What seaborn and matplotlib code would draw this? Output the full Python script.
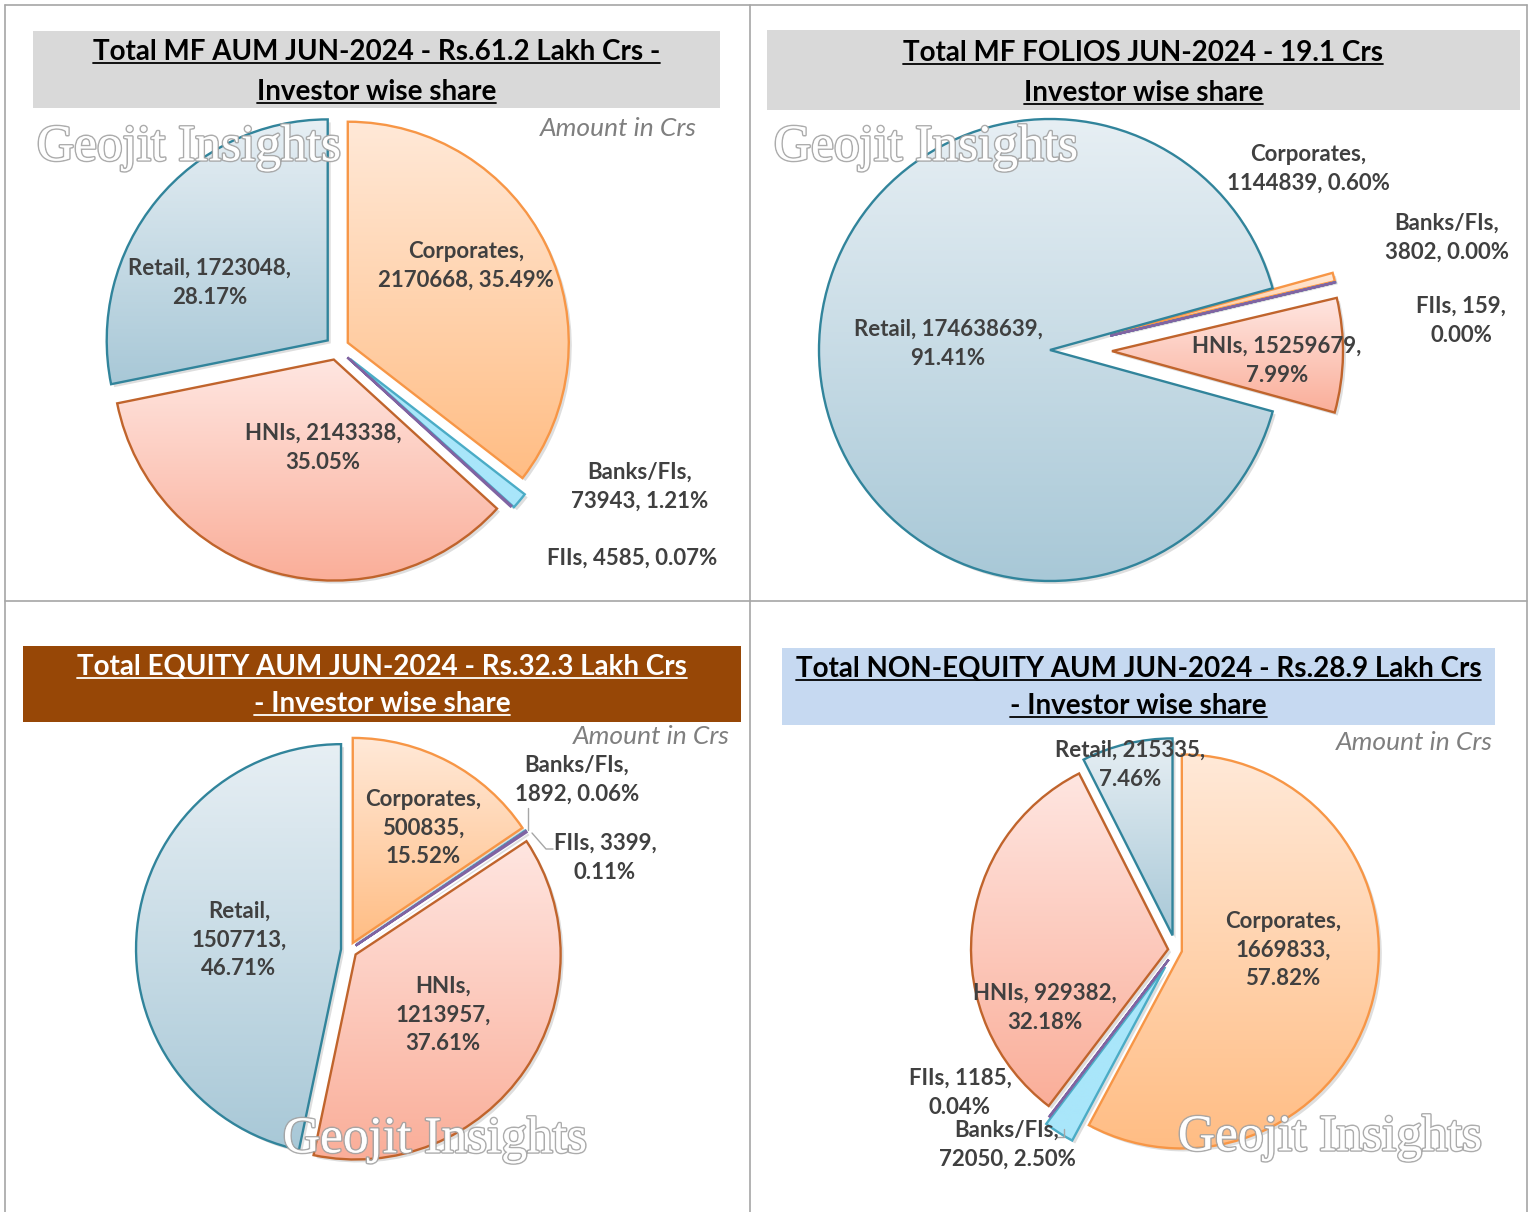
import numpy as np
import matplotlib
matplotlib.use("Agg")
import matplotlib.pyplot as plt
import matplotlib.patheffects as pe
from matplotlib.patches import Rectangle, PathPatch
from matplotlib.transforms import Affine2D
import seaborn as sns

# ==========================================
# DATA (amounts in Crs, folios in numbers)
# ==========================================
categories = ["Corporates", "Banks/FIs", "FIIs", "HNIs", "Retail"]

mf_aum = [2170668, 73943, 4585, 2143338, 1723048]
mf_aum_pct = [35.49, 1.21, 0.07, 35.05, 28.17]

mf_folios = [1144839, 3802, 159, 15259679, 174638639]
mf_folios_pct = [0.60, 0.00, 0.00, 7.99, 91.41]

equity_aum = [500835, 1892, 3399, 1213957, 1507713]
equity_aum_pct = [15.52, 0.06, 0.11, 37.61, 46.71]

non_equity_aum = [1669833, 72050, 1185, 929382, 215335]
non_equity_aum_pct = [57.82, 2.50, 0.04, 32.18, 7.46]

titles = [
    ["Total MF AUM JUN-2024 - Rs.61.2 Lakh Crs -", "Investor wise share"],
    ["Total MF FOLIOS JUN-2024 - 19.1 Crs", "Investor wise share"],
    ["Total EQUITY AUM JUN-2024 - Rs.32.3 Lakh Crs", "- Investor wise share"],
    ["Total NON-EQUITY AUM JUN-2024 - Rs.28.9 Lakh Crs", "- Investor wise share"],
]

# label line breaks: how many "words" go on each line, per category
label_breaks = [
    {"Corporates": [1, 2], "Banks/FIs": [1, 2], "FIIs": [3], "HNIs": [2, 1], "Retail": [2, 1]},
    {"Corporates": [1, 2], "Banks/FIs": [1, 2], "FIIs": [2, 1], "HNIs": [2, 1], "Retail": [2, 1]},
    {"Corporates": [1, 1, 1], "Banks/FIs": [1, 2], "FIIs": [2, 1], "HNIs": [1, 1, 1], "Retail": [1, 1, 1]},
    {"Corporates": [1, 1, 1], "Banks/FIs": [1, 2], "FIIs": [2, 1], "HNIs": [2, 1], "Retail": [2, 1]},
]

# ==========================================
# STYLE / LAYOUT (pixel space, y measured from top)
# ==========================================
W, H = 1530, 1212
top_col = {"Corporates": "#FFE9D8", "Banks/FIs": "#A9E6FA", "FIIs": "#8E74B0",
           "HNIs": "#FFE6E1", "Retail": "#E7EFF4"}
bot_col = {"Corporates": "#FFBD84", "Banks/FIs": "#A9E6FA", "FIIs": "#8064A2",
           "HNIs": "#FAAE99", "Retail": "#A8C8D7"}
edge_col = {"Corporates": "#F79646", "Banks/FIs": "#4BACC6", "FIIs": "#8064A2",
            "HNIs": "#C0642C", "Retail": "#31849B"}

# explode offsets are in pixels (pie uses data units)
pies = [
    dict(values=mf_aum, pct=mf_aum_pct, center=(337, 348), r=221, start=90,
         explode=[12, 17, 14, 12, 12]),
    dict(values=mf_folios, pct=mf_folios_pct, center=(1050, 350), r=231, start=15.5,
         explode=[62, 62, 62, 62, 0]),
    dict(values=equity_aum, pct=equity_aum_pct, center=(349, 950), r=205, start=90,
         explode=[8, 8, 8, 8, 8]),
    dict(values=non_equity_aum, pct=non_equity_aum_pct, center=(1176, 950), r=197, start=90,
         explode=[6, 20, 12, 8, 15]),
]

label_pos = [
    {"Corporates": (466, 266), "Banks/FIs": (640, 487), "FIIs": (632, 558),
     "HNIs": (323, 448), "Retail": (210, 283)},
    {"Corporates": (1308, 169), "Banks/FIs": (1447, 238), "FIIs": (1461, 321),
     "HNIs": (1277, 361), "Retail": (948, 344)},
    {"Corporates": (423, 828), "Banks/FIs": (577, 780), "FIIs": (605, 858),
     "HNIs": (443, 1015), "Retail": (239, 940)},
    {"Corporates": (1283, 950), "Banks/FIs": (1007, 1145), "FIIs": (960, 1093),
     "HNIs": (1045, 1008), "Retail": (1130, 765)},
]

title_boxes = [
    dict(x0=33, x1=720, y0=31, y1=108, fc="#D9D9D9", tc="black", base=(60, 100)),
    dict(x0=767, x1=1520, y0=30, y1=110, fc="#D9D9D9", tc="black", base=(61, 101)),
    dict(x0=23, x1=741, y0=646, y1=722, fc="#974706", tc="white", base=(675, 712)),
    dict(x0=782, x1=1495, y0=648, y1=725, fc="#C6D9F1", tc="black", base=(677, 714)),
]

watermarks = [(189, 148), (926, 148), (435, 1140), (1330, 1138)]
amount_notes = [(697, 128), None, (730, 737), (1493, 742)]

sns.set_theme(style="white")
plt.rcParams["font.family"] = ["Lato", "DejaVu Sans"]

fig = plt.figure(figsize=(W / 100, H / 100), dpi=100)
ax = fig.add_axes([0, 0, 1, 1])


def fy(y):
    return H - y


for i, p in enumerate(pies):
    cx, cy = p["center"]
    wedges, _ = ax.pie(p["values"], radius=p["r"], center=(cx, fy(cy)),
                       startangle=p["start"], counterclock=False,
                       explode=p["explode"],
                       wedgeprops=dict(linewidth=1.7))
    for w, cat in zip(wedges, categories):
        w.set_facecolor("none")
        w.set_edgecolor(edge_col[cat])
        w.set_zorder(3)
        path = w.get_path()
        # soft drop shadow
        shadow = PathPatch(path.transformed(Affine2D().translate(3, -3)),
                           facecolor="black", edgecolor="none", alpha=0.13,
                           zorder=1.5)
        ax.add_patch(shadow)
        (x0, y0), (x1, y1) = path.get_extents().get_points()
        cmap = sns.blend_palette([top_col[cat], bot_col[cat]], as_cmap=True)
        grad = np.linspace(0, 1, 256).reshape(-1, 1)
        im = ax.imshow(grad, cmap=cmap, extent=[x0, x1, y0, y1], origin="upper",
                       aspect="auto", zorder=2, interpolation="bilinear")
        im.set_clip_path(w)

    # data labels
    for cat, v, pc in zip(categories, p["values"], p["pct"]):
        words = [f"{cat},", f"{v},", f"{pc:.2f}%"]
        lines, k = [], 0
        for n in label_breaks[i][cat]:
            lines.append(" ".join(words[k:k + n]))
            k += n
        lx, ly = label_pos[i][cat]
        ax.text(lx, fy(ly), "\n".join(lines), ha="center", va="center",
                fontsize=16, fontweight="bold", color="#404040",
                linespacing=1.45, zorder=6)

# small leader lines
ax.plot([528, 528], [fy(808), fy(830)], color="#A6A6A6", lw=1, zorder=4)
ax.plot([532, 546, 553], [fy(833), fy(849), fy(849)], color="#A6A6A6", lw=1, zorder=4)
ax.plot([1056, 1064, 1064], [fy(1137), fy(1137), fy(1129)], color="#A6A6A6", lw=1, zorder=4)

# watermarks
for (wx, wy) in watermarks:
    ax.text(wx, fy(wy), "Geojit Insights", ha="center", va="center",
            fontsize=37, family="Liberation Serif", color="white", alpha=0.9,
            zorder=7,
            path_effects=[pe.withStroke(linewidth=2.2, foreground="#A3A3A3"),
                          pe.Normal()])

# "Amount in Crs" notes
for note in amount_notes:
    if note is None:
        continue
    ax.text(note[0], fy(note[1]), "Amount in Crs", ha="right", va="center",
            fontsize=19, style="italic", color="#7F7F7F", zorder=6)

# title boxes
title_texts = []
for tb, lines in zip(title_boxes, titles):
    ax.add_patch(Rectangle((tb["x0"], fy(tb["y1"])), tb["x1"] - tb["x0"],
                           tb["y1"] - tb["y0"], facecolor=tb["fc"],
                           edgecolor="none", zorder=1))
    xc = (tb["x0"] + tb["x1"]) / 2
    for line, b in zip(lines, tb["base"]):
        t = ax.text(xc, fy(b), line, ha="center", va="baseline",
                    fontsize=20, fontweight="bold", color=tb["tc"], zorder=6)
        title_texts.append((t, b, tb["tc"]))

# panel grid lines
grid_kw = dict(color="#A6A6A6", lw=1.2, zorder=8)
ax.plot([5, 5], [fy(5), fy(H)], **grid_kw)
ax.plot([1527, 1527], [fy(5), fy(H)], **grid_kw)
ax.plot([5, 1527], [fy(5), fy(5)], **grid_kw)
ax.plot([750, 750], [fy(5), fy(H)], **grid_kw)
ax.plot([5, 1527], [fy(601), fy(601)], **grid_kw)

ax.set_xlim(0, W)
ax.set_ylim(0, H)
ax.set_aspect("auto")
ax.axis("off")

# underline titles
fig.canvas.draw()
renderer = fig.canvas.get_renderer()
inv = ax.transData.inverted()
for t, b, c in title_texts:
    bb = t.get_window_extent(renderer)
    (ux0, _), (ux1, _) = inv.transform([[bb.x0, bb.y0], [bb.x1, bb.y1]])
    ax.plot([ux0, ux1], [fy(b + 3), fy(b + 3)], color=c, lw=1.3, zorder=6)

fig.savefig("out.png", dpi=100)
